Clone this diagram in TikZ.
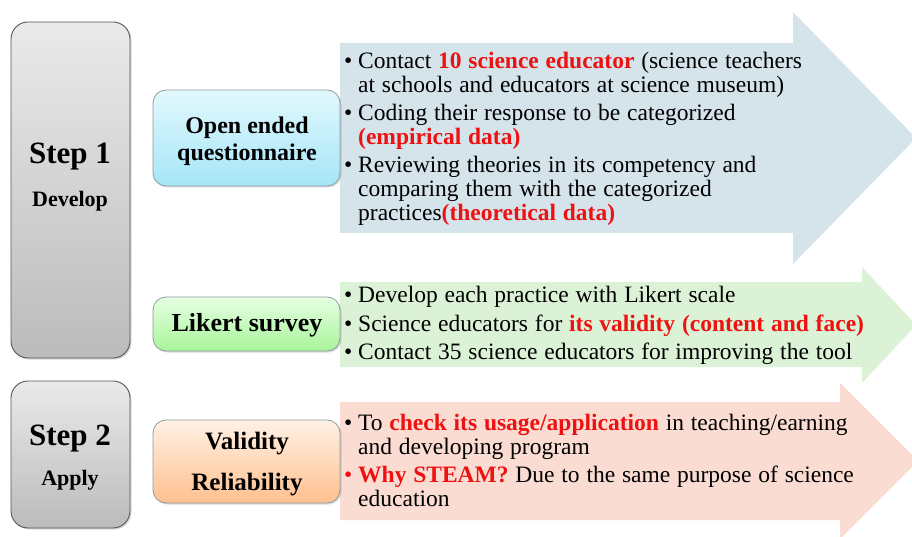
\documentclass[tikz,border=0pt]{standalone}
\usepackage{fontspec}
\setmainfont{Liberation Serif}
\usetikzlibrary{shadows}

\definecolor{bluearrow}{HTML}{D5E3EA}
\definecolor{greenarrow}{HTML}{DBF2D6}
\definecolor{pinkarrow}{HTML}{FADCD2}
\definecolor{hl}{HTML}{EE1111}
\definecolor{stepedge}{HTML}{555555}
\definecolor{boxedge}{HTML}{8E9A9E}
\definecolor{steptop}{HTML}{EAEAEA}
\definecolor{stepbot}{HTML}{BBBBBB}
\definecolor{cyantop}{HTML}{E2F8FD}
\definecolor{cyanbot}{HTML}{A5E6F8}
\definecolor{greentop}{HTML}{E6FFE2}
\definecolor{greenbot}{HTML}{A8F59A}
\definecolor{orangetop}{HTML}{FFF1E5}
\definecolor{orangebot}{HTML}{FFC08F}

\newcommand{\hot}[1]{\textcolor{hl}{\textbf{#1}}}
\newcommand{\bul}{\makebox[14pt][l]{\textbullet}}
\newcommand{\ind}{\hspace*{14pt}}
\newcommand{\listfont}{\fontsize{23.5}{24}\selectfont\spaceskip=0.29em\relax}

\tikzset{
  stepbox/.style={draw=stepedge, line width=0.9pt, rounded corners=17pt,
    top color=steptop, bottom color=stepbot,
    drop shadow={shadow xshift=1.5pt, shadow yshift=-1.5pt, opacity=0.3}},
  tagbox/.style={draw=boxedge, line width=0.8pt, rounded corners=13pt,
    drop shadow={shadow xshift=1.5pt, shadow yshift=-1.5pt, opacity=0.3}},
  bigtitle/.style={font=\fontsize{31}{33}\selectfont\bfseries},
  subtitle/.style={font=\fontsize{22}{24}\selectfont\bfseries},
  tagtext/.style={font=\fontsize{25}{28}\selectfont\bfseries, align=center},
  listtext/.style={font=\listfont, align=left, anchor=north west, inner sep=0pt},
}

\begin{document}
\begin{tikzpicture}[x=1pt, y=-1pt]
\useasboundingbox (0,0) rectangle (912,537);
\fill[white] (0,0) rectangle (912,537);
\clip (0,0) rectangle (912,537);

% block arrows
\fill[bluearrow] (340,43) -- (793,43) -- (793,12) -- (916,138) -- (793,264)
  -- (793,233) -- (340,233) -- cycle;
\fill[greenarrow] (340,282) -- (862,282) -- (862,267) -- (916,325) -- (862,383)
  -- (862,367) -- (340,367) -- cycle;
\fill[pinkarrow] (340,402) -- (840,402) -- (840,383) -- (918,461) -- (840,539)
  -- (840,520) -- (340,520) -- cycle;

% step boxes
\path[stepbox] (11,22) rectangle (130,358);
\node[bigtitle] (s1) at (70,157) {Step 1};
\node[subtitle] (s1sub) at (70,201) {Develop};

\path[stepbox] (11,381) rectangle (130,528);
\node[bigtitle] (s2) at (70,439) {Step 2};
\node[subtitle] (s2sub) at (70,480) {Apply};

% method boxes
\path[tagbox, top color=cyantop, bottom color=cyanbot] (153,90) rectangle (340,186);
\node[tagtext, font=\fontsize{24}{28}\selectfont\bfseries] (open) at (247,141)
  {Open ended\\[-1pt]questionnaire};

\path[tagbox, top color=greentop, bottom color=greenbot] (153,297) rectangle (340,351);
\node[tagtext, font=\fontsize{26}{28}\selectfont\bfseries] (likert) at (247,325) {Likert survey};

\path[tagbox, top color=orangetop, bottom color=orangebot] (153,420) rectangle (340,503);
\node[tagtext] (valid) at (247,464) {Validity\\[13pt]Reliability};

% bullet texts
\node[listtext] (t1) at (344,52) {%
\bul Contact \hot{10 science educator} (science teachers\\
\ind at schools and educators at science museum)\\[4pt]
\bul Coding their response to be categorized\\
\ind\hot{(empirical data)}\\[4pt]
\bul Reviewing theories in its competency and\\
\ind comparing them with the categorized\\
\ind practices\hot{(theoretical data)}};

\node[listtext] (t2) at (344,286) {%
\bul Develop each practice with Likert scale\\[4.5pt]
\bul Science educators for \hot{its validity (content and face)}\\[4.5pt]
\bul Contact 35 science educators for improving the tool};

\node[listtext] (t3) at (344,414) {%
\bul To \hot{check its usage/application} in teaching/earning\\
\ind and developing program\\[4pt]
\textcolor{hl}{\bul}\hot{Why STEAM?} Due to the same purpose of science\\
\ind education};
\end{tikzpicture}
\end{document}
